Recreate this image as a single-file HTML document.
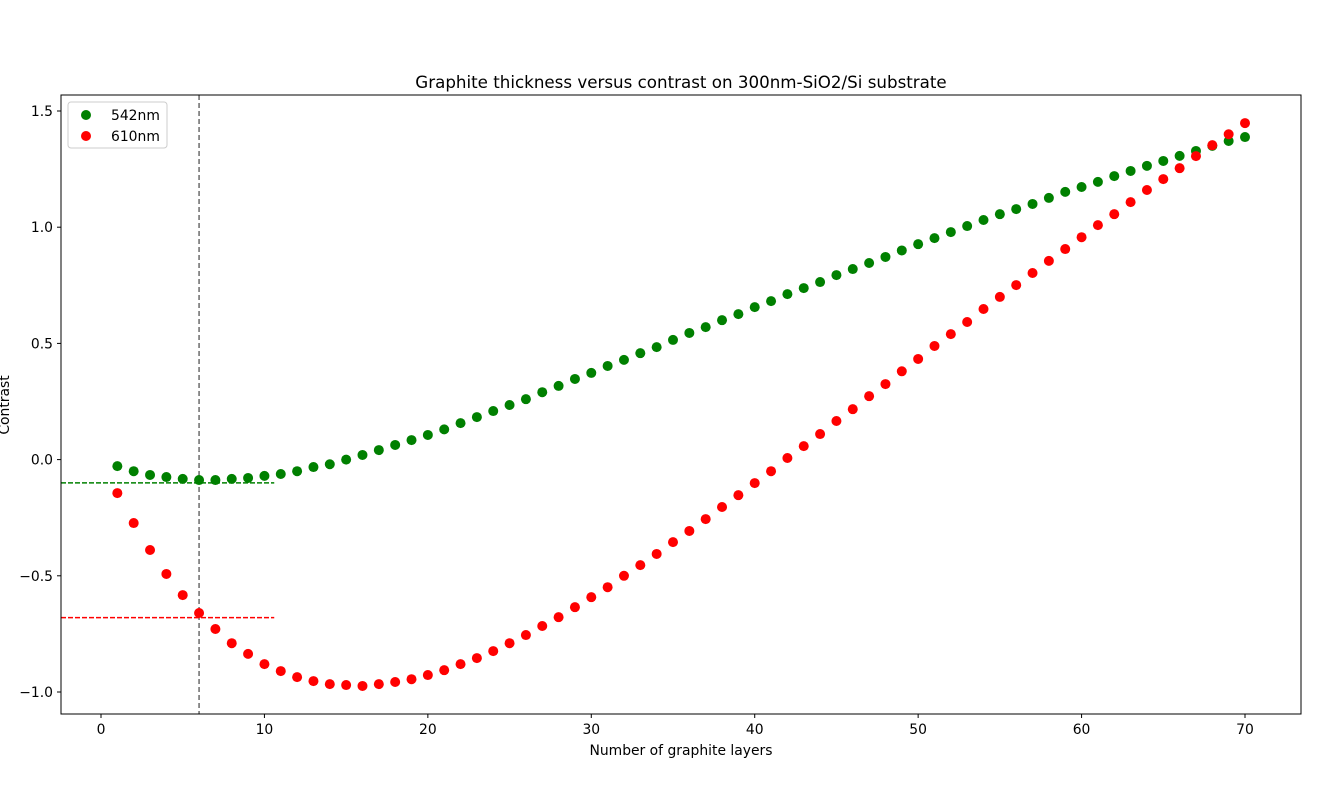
<!DOCTYPE html>
<html><head><meta charset="utf-8"><style>
body{margin:0;background:#fff;font-family:"DejaVu Sans","Liberation Sans",sans-serif}
svg text{font-family:"DejaVu Sans","Liberation Sans",sans-serif;fill:#000}
</style></head><body>
<svg id="chart" width="1325" height="794" xmlns="http://www.w3.org/2000/svg">
<text x="681" y="88" font-size="16.7" text-anchor="middle">Graphite thickness versus contrast on 300nm-SiO2/Si substrate</text>
<g id="marks"></g>
<rect x="61" y="95" width="1240" height="619" fill="none" stroke="#000" stroke-width="1"/>
<g id="axes"></g>
<text x="681" y="755" font-size="13.9" text-anchor="middle">Number of graphite layers</text>
<text transform="translate(9,405) rotate(-90)" font-size="13.9" text-anchor="middle">Contrast</text>
<g>
<rect x="68" y="102" width="99" height="46" rx="3" fill="#fff" stroke="#ccc"/>
<circle cx="86" cy="115" r="5" fill="green"/>
<text x="111" y="120" font-size="13.9">542nm</text>
<circle cx="86" cy="136" r="5" fill="red"/>
<text x="111" y="141" font-size="13.9">610nm</text>
</g>
</svg>
<script>
const layers=[];for(let i=1;i<=70;i++)layers.push(i);
const green=[-0.028,-0.05,-0.066,-0.075,-0.083,-0.088,-0.088,-0.083,-0.079,-0.07,-0.062,-0.05,-0.032,-0.02,0,0.02,0.041,0.063,0.084,0.106,0.13,0.157,0.183,0.209,0.235,0.26,0.29,0.317,0.347,0.373,0.403,0.429,0.458,0.484,0.515,0.545,0.57,0.6,0.626,0.656,0.682,0.712,0.738,0.764,0.794,0.82,0.846,0.872,0.9,0.927,0.953,0.979,1.005,1.031,1.056,1.078,1.1,1.126,1.152,1.173,1.195,1.22,1.242,1.264,1.285,1.307,1.328,1.35,1.371,1.388];
const red=[-0.144,-0.273,-0.389,-0.492,-0.583,-0.66,-0.729,-0.79,-0.836,-0.88,-0.91,-0.936,-0.953,-0.966,-0.97,-0.974,-0.966,-0.957,-0.945,-0.927,-0.906,-0.88,-0.854,-0.824,-0.79,-0.755,-0.716,-0.678,-0.635,-0.592,-0.549,-0.5,-0.454,-0.406,-0.355,-0.307,-0.256,-0.204,-0.153,-0.101,-0.05,0.007,0.058,0.11,0.166,0.217,0.273,0.325,0.38,0.433,0.489,0.54,0.592,0.648,0.7,0.751,0.803,0.855,0.906,0.957,1.009,1.056,1.108,1.16,1.207,1.254,1.306,1.353,1.4,1.448];
const xTicks=[0,10,20,30,40,50,60,70];
const yTicks=[-1.0,-0.5,0.0,0.5,1.0,1.5];
const greenRef=-0.1, redRef=-0.68, refLayer=6, refLineEnd=10.6;
const sx=v=>101+v*(1245-101)/70;
const sy=v=>459.6-v*232.4;
const NS="http://www.w3.org/2000/svg";
function mk(t,a,p){const e=document.createElementNS(NS,t);for(const k in a)e.setAttribute(k,a[k]);p.appendChild(e);return e;}
const marks=document.getElementById('marks'),axes=document.getElementById('axes');
let l=mk('line',{x1:sx(refLayer),x2:sx(refLayer),y1:95,y2:714,stroke:'#555','stroke-dasharray':'5,3','stroke-width':1.3},marks);


l=mk('line',{x1:61,x2:sx(refLineEnd),y1:sy(greenRef),y2:sy(greenRef),stroke:'green','stroke-dasharray':'5,2','stroke-width':1.5},marks);


l=mk('line',{x1:61,x2:sx(refLineEnd),y1:sy(redRef),y2:sy(redRef),stroke:'red','stroke-dasharray':'5,2','stroke-width':1.5},marks);


layers.forEach((x,i)=>{
 let c=mk('circle',{cx:sx(x),cy:sy(green[i]),r:5,fill:'green'},marks);
 
 
 c=mk('circle',{cx:sx(x),cy:sy(red[i]),r:5,fill:'red'},marks);
 
 
});
xTicks.forEach(v=>{
 mk('line',{x1:sx(v),x2:sx(v),y1:714,y2:718,stroke:'#000'},axes);
 const t=mk('text',{x:sx(v),y:734,'font-size':13.9,'text-anchor':'middle'},axes);t.textContent=v;
 
 
});
yTicks.forEach(v=>{
 mk('line',{x1:57,x2:61,y1:sy(v),y2:sy(v),stroke:'#000'},axes);
 const t=mk('text',{x:53,y:sy(v)+5,'font-size':13.9,'text-anchor':'end'},axes);t.textContent=v.toFixed(1).replace('-','\u2212');
 
 
});
</script>
</body></html>
